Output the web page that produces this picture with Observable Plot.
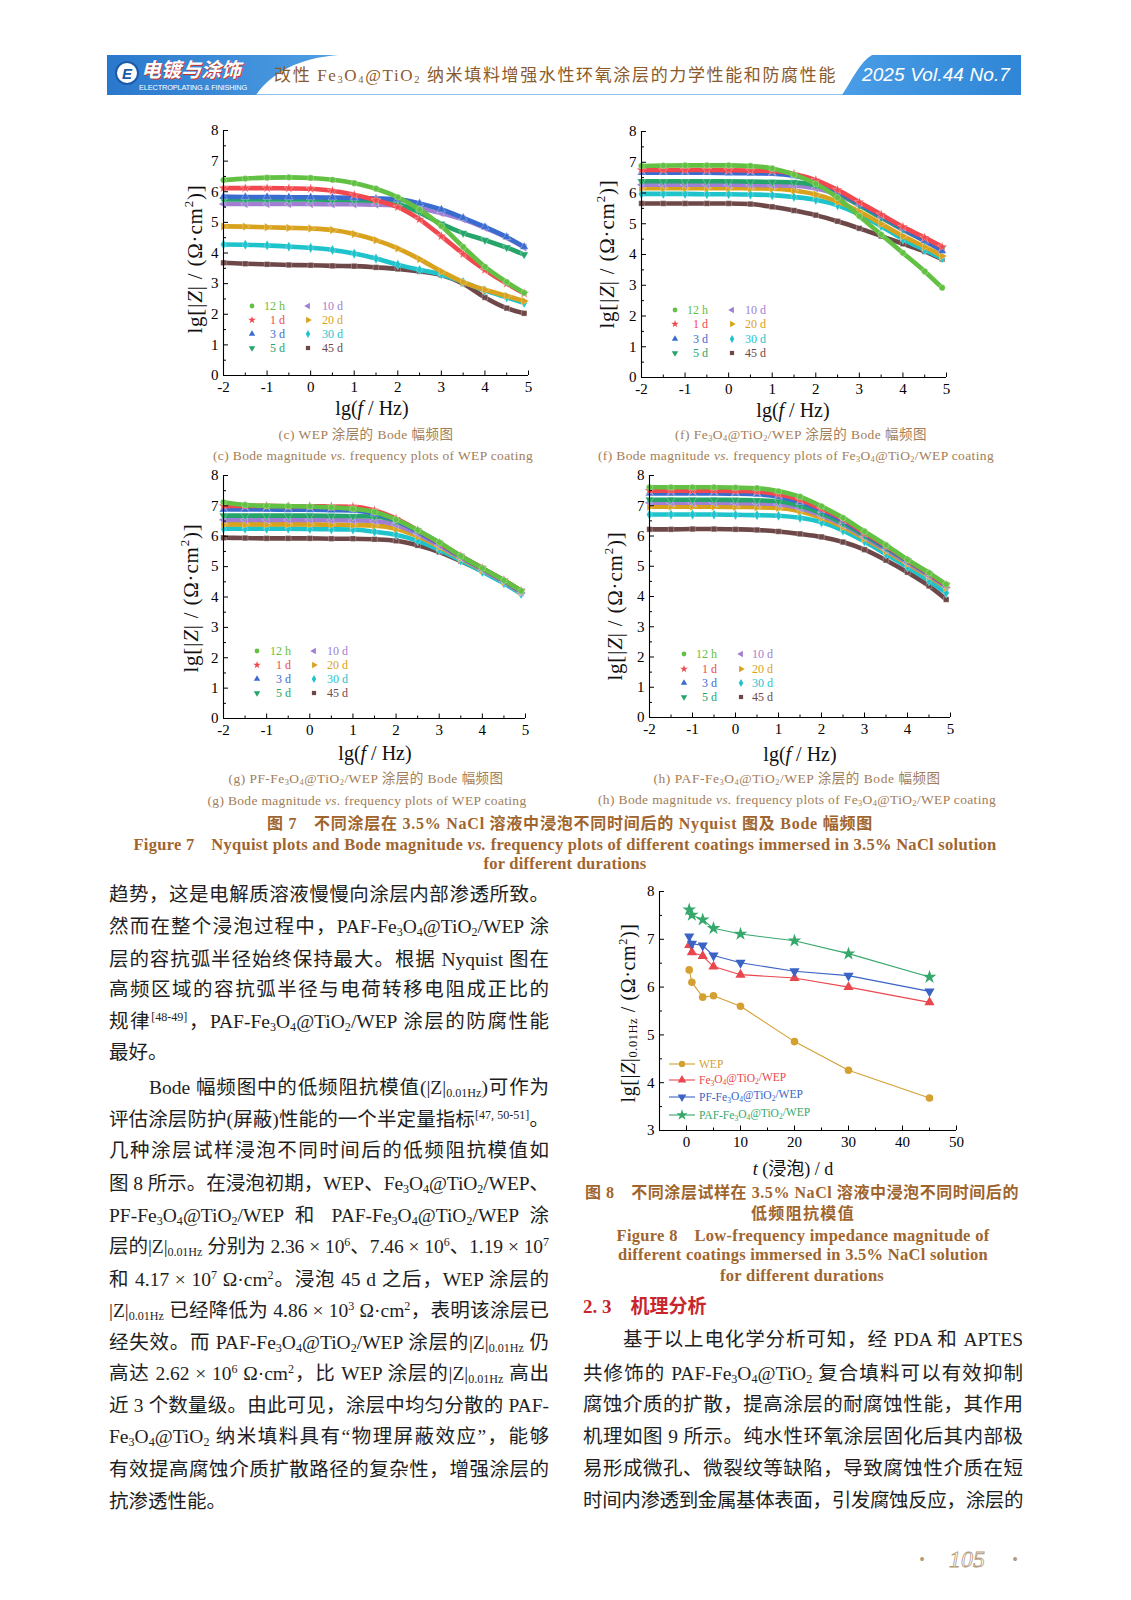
<!DOCTYPE html>
<html><head><meta charset="utf-8">
<script src="https://cdn.jsdelivr.net/npm/d3@7"></script>
<script src="https://cdn.jsdelivr.net/npm/@observablehq/plot@0.6"></script>
<style>
body{margin:0;background:#fff;}
#page{position:relative;width:1131px;height:1600px;overflow:hidden;background:#fff;font-family:"Liberation Serif","Noto Sans CJK SC",serif;color:#1e1e1e;}
#page div.a{position:absolute;white-space:nowrap;}
sub{font-size:0.62em;vertical-align:-0.22em;line-height:0;}
sup{font-size:0.62em;vertical-align:0.62em;line-height:0;}
.c{transform:translate(-50%,-50%);}
.cap{color:#a27d57;font-size:13.5px;}
.bcap{color:#a0652e;font-weight:bold;}
</style></head>
<body><div id="page"></div>
<script>
// ---------------- DATA ----------------
const lgF = [-2,-1.5,-1,-0.5,0,0.5,1,1.5,2,2.5,3,3.5,4,4.5,4.9];
const durations = ["12 h","1 d","3 d","5 d","10 d","20 d","30 d","45 d"];
const seriesColors = ["#62c043","#f0484e","#3a6cd0","#26a56b","#a07fd2","#d9a21c","#1fc3cc","#6e4848"];
const yTickVals = [0,1,2,3,4,5,6,7,8];
const xTickVals = [-2,-1,0,1,2,3,4,5];

// (c) WEP
const zWEP = [
  [6.38,6.43,6.46,6.47,6.45,6.39,6.28,6.10,5.82,5.42,4.88,4.20,3.55,3.05,2.70],
  [6.12,6.12,6.12,6.11,6.10,6.03,5.90,5.72,5.50,5.10,4.55,3.97,3.45,3.00,2.68],
  [5.84,5.83,5.83,5.82,5.82,5.81,5.80,5.78,5.75,5.62,5.42,5.15,4.85,4.52,4.20],
  [5.75,5.75,5.75,5.75,5.75,5.74,5.73,5.70,5.60,5.32,4.95,4.65,4.42,4.18,3.95],
  [5.60,5.60,5.60,5.60,5.60,5.59,5.59,5.58,5.55,5.45,5.30,5.10,4.82,4.50,4.18],
  [4.87,4.86,4.84,4.82,4.80,4.75,4.62,4.42,4.15,3.80,3.40,3.05,2.80,2.60,2.43],
  [4.28,4.27,4.25,4.21,4.17,4.10,3.98,3.82,3.62,3.45,3.30,3.05,2.78,2.55,2.37],
  [3.68,3.65,3.63,3.61,3.60,3.58,3.57,3.53,3.48,3.40,3.28,3.00,2.55,2.20,2.03]
];
// (f) Fe3O4@TiO2/WEP
const zFe = [
  [6.88,6.89,6.90,6.90,6.90,6.88,6.80,6.60,6.30,5.85,5.25,4.65,4.05,3.45,2.92],
  [6.75,6.75,6.75,6.75,6.74,6.73,6.72,6.62,6.42,6.10,5.70,5.30,4.90,4.55,4.25],
  [6.66,6.66,6.66,6.66,6.65,6.64,6.63,6.56,6.38,6.05,5.65,5.25,4.85,4.45,4.12],
  [6.38,6.38,6.38,6.38,6.38,6.37,6.36,6.35,6.25,6.00,5.60,5.20,4.82,4.45,4.20],
  [6.27,6.27,6.27,6.27,6.27,6.26,6.25,6.24,6.15,5.95,5.60,5.20,4.80,4.45,4.15],
  [6.16,6.16,6.16,6.16,6.16,6.15,6.14,6.08,5.95,5.72,5.40,5.00,4.60,4.25,3.95],
  [5.97,5.97,5.97,5.96,5.96,5.95,5.93,5.87,5.78,5.60,5.30,4.92,4.50,4.15,3.88],
  [5.66,5.66,5.66,5.66,5.66,5.64,5.55,5.43,5.28,5.08,4.85,4.60,4.35,4.10,3.85]
];
// (g) PF-Fe3O4@TiO2/WEP
const zPF = [
  [7.12,7.03,7.00,6.99,6.98,6.95,6.90,6.80,6.55,6.20,5.80,5.35,4.95,4.55,4.20],
  [7.00,7.00,7.00,6.99,6.99,6.98,6.97,6.85,6.58,6.20,5.78,5.35,4.95,4.55,4.20],
  [6.88,6.88,6.88,6.87,6.87,6.86,6.85,6.75,6.52,6.15,5.75,5.33,4.93,4.53,4.18],
  [6.68,6.68,6.68,6.68,6.68,6.67,6.66,6.65,6.50,6.18,5.78,5.35,4.95,4.55,4.20],
  [6.54,6.54,6.54,6.54,6.54,6.53,6.52,6.50,6.38,6.08,5.70,5.30,4.90,4.50,4.15],
  [6.39,6.39,6.39,6.39,6.39,6.38,6.37,6.35,6.25,6.00,5.65,5.27,4.88,4.50,4.15],
  [6.25,6.25,6.25,6.25,6.24,6.23,6.22,6.15,6.05,5.85,5.55,5.20,4.83,4.45,4.10],
  [5.95,5.94,5.93,5.93,5.93,5.92,5.92,5.90,5.85,5.70,5.48,5.18,4.85,4.50,4.15]
];
// (h) PAF-Fe3O4@TiO2/WEP
const zPAF = [
  [7.61,7.61,7.61,7.61,7.60,7.58,7.48,7.30,6.98,6.60,6.15,5.70,5.22,4.78,4.40],
  [7.50,7.50,7.50,7.50,7.49,7.47,7.38,7.20,6.90,6.55,6.10,5.67,5.20,4.75,4.38],
  [7.41,7.41,7.41,7.41,7.40,7.38,7.30,7.12,6.85,6.50,6.07,5.63,5.18,4.73,4.36],
  [7.20,7.20,7.20,7.20,7.19,7.18,7.15,7.00,6.75,6.42,6.02,5.60,5.17,4.75,4.38],
  [7.10,7.10,7.10,7.10,7.09,7.08,7.05,6.92,6.68,6.37,5.97,5.55,5.12,4.70,4.33],
  [6.97,6.97,6.97,6.97,6.96,6.95,6.93,6.82,6.60,6.30,5.92,5.50,5.08,4.66,4.29],
  [6.71,6.71,6.71,6.71,6.70,6.69,6.67,6.60,6.45,6.18,5.82,5.40,4.97,4.52,4.12],
  [6.22,6.22,6.23,6.23,6.22,6.20,6.15,6.07,5.97,5.80,5.55,5.20,4.80,4.35,3.90]
];

// Figure 8
const days = [0.5,1,3,5,10,20,30,45];
const z001WEP = [6.36,6.10,5.79,5.82,5.60,4.86,4.26,3.68];
const z001Fe  = [6.88,6.73,6.65,6.43,6.26,6.19,6.00,5.68];
const z001PF  = [7.06,6.91,6.87,6.66,6.51,6.33,6.24,5.91];
const z001PAF = [7.62,7.51,7.41,7.23,7.11,6.97,6.70,6.21];
const fig8Colors = ["#d4a032","#e9474d","#3b63c5","#36a86c"];
const fig8Ticks = [0,10,20,30,40,50];
const fig8YTicks = [3,4,5,6,7,8];

// ---------------- HELPERS ----------------
const page = document.getElementById("page");
const FT = "Fe<sub>3</sub>O<sub>4</sub>@TiO<sub>2</sub>";
const Z01 = "|Z|<sub>0.01Hz</sub>";

function div(html, style, cls="a"){
  const d = document.createElement("div");
  d.className = cls; d.innerHTML = html;
  Object.assign(d.style, style);
  page.appendChild(d);
  return d;
}
function fit(el, target){
  const w = el.getBoundingClientRect().width;
  const n = el.textContent.length;
  el.style.letterSpacing = ((target - w)/n) + "px";
}
function centered(html, cx, cy, style, target, cls){
  const d = div(html, Object.assign({left:cx+"px", top:cy+"px"}, style), "a c " + (cls||""));
  if (target) fit(d, target);
  return d;
}
const SQ3 = Math.sqrt(3);
function tri(angle){
  return {draw(ctx, size){
    const r = Math.sqrt(4*size/(3*SQ3));
    for (let i=0;i<3;i++){
      const a = angle + i*2*Math.PI/3;
      const px = r*Math.cos(a), py = r*Math.sin(a);
      if (i===0) ctx.moveTo(px,py); else ctx.lineTo(px,py);
    }
    ctx.closePath();
  }};
}
const bodeSymbols = [d3.symbolCircle, d3.symbolStar, tri(-Math.PI/2), tri(Math.PI/2), tri(Math.PI), tri(0), d3.symbolDiamond, d3.symbolSquare];
const fig8Symbols = [d3.symbolCircle, tri(-Math.PI/2), tri(Math.PI/2), d3.symbolStar];

const plotStyle = "background:transparent;font-family:'Liberation Serif',serif;font-size:15px;overflow:visible;color:#000;";

// ---------------- HEADER ----------------
const hs = d3.select(page).append("svg").attr("width",1131).attr("height",110)
  .style("position","absolute").style("left","0").style("top","0");
const defs = hs.append("defs");
const g1 = defs.append("linearGradient").attr("id","hbL").attr("x1",0).attr("x2",1);
g1.append("stop").attr("offset",0).attr("stop-color","#2a78cc");
g1.append("stop").attr("offset",1).attr("stop-color","#4f9fe4");
const g2 = defs.append("linearGradient").attr("id","hbR").attr("x1",0).attr("x2",1);
g2.append("stop").attr("offset",0).attr("stop-color","#4a9de6");
g2.append("stop").attr("offset",1).attr("stop-color","#2f86d6");
hs.append("line").attr("x1",250).attr("x2",860).attr("y1",94.5).attr("y2",94.5).attr("stroke","#8fc0ec").attr("stroke-width",1.2);
hs.append("path").attr("d","M107,55 L338,55 C300,58 272,72 256,95 L107,95 Z").attr("fill","url(#hbL)");
hs.append("path").attr("d","M872,55 L1021,55 L1021,95 L842,95 C852,80 860,62 872,55 Z").attr("fill","url(#hbR)");
hs.append("circle").attr("cx",127).attr("cy",73).attr("r",11).attr("fill","#fff").attr("stroke","#1b5aa8").attr("stroke-width",2);
hs.append("text").attr("x",127).attr("y",78.5).attr("text-anchor","middle").attr("font-size",15).attr("font-weight","bold")
  .attr("font-style","italic").attr("font-family","Liberation Sans").attr("fill","#1b5aa8").text("E");

div("电镀与涂饰", {left:"141px", top:"56px", fontSize:"20px", fontWeight:"bold", fontStyle:"italic", color:"#fff",
  fontFamily:"'Noto Sans CJK SC'", textShadow:"1px 1px 0 #c8332b", lineHeight:"26px"});
const eng = div("ELECTROPLATING &amp; FINISHING", {left:"139px", top:"83px", fontSize:"7.4px", color:"#fff",
  fontFamily:"'Liberation Sans'", lineHeight:"10px"});
fit(eng, 108);
const htitle = div(`改性 ${FT} 纳米填料增强水性环氧涂层的力学性能和防腐性能`, {left:"274px", top:"64px",
  fontSize:"17px", color:"#8b5a2b", lineHeight:"24px"});
fit(htitle, 563);
centered("2025 Vol.44 No.7", 936, 75, {fontSize:"19px", fontStyle:"italic", color:"#fff", fontFamily:"'Liberation Sans'"}, 148);

// ---------------- BODE CHARTS ----------------
function bodeChart(z, box){
  const mL=50, mT=14, mR=24, mB=34;
  const pw = box.x1-box.x0, ph = box.y1-box.y0;
  const marks = [];
  for (let s = z.length-1; s >= 0; s--){
    const rows = z[s].map((v,i)=>({x:lgF[i], y:v}));
    marks.push(Plot.line(rows, {x:"x", y:"y", stroke:seriesColors[s], strokeWidth:4.6, curve:"monotone-x"}));
    marks.push(Plot.dot(rows, {x:"x", y:"y", fill:seriesColors[s], r:3.1, symbol:bodeSymbols[s], stroke:"#fff", strokeWidth:0.4, strokeOpacity:0.7}));
  }
  const xMinor = xTickVals.slice(0,-1).map(d=>d+0.5);
  const yMinor = yTickVals.slice(0,-1).map(d=>d+0.5);
  const plot = Plot.plot({
    width: pw+mL+mR, height: ph+mT+mB,
    marginLeft:mL, marginTop:mT, marginRight:mR, marginBottom:mB,
    style: plotStyle,
    x: {domain:[-2,5]}, y: {domain:[0,8]},
    marks: [
      Plot.axisX({ticks:xTickVals, tickSize:0, tickPadding:6, tickFormat:d=>String(d), label:null}),
      Plot.axisY({ticks:yTickVals, tickSize:0, tickPadding:5, tickFormat:d=>String(d), label:null}),
      ...marks,
      Plot.tickX(xTickVals, {x:d=>d, insetTop:ph-4.5}),
      Plot.tickX(xMinor, {x:d=>d, insetTop:ph-2.5}),
      Plot.tickY(yTickVals, {y:d=>d, insetRight:pw-5}),
      Plot.tickY(yMinor, {y:d=>d, insetRight:pw-3}),
      Plot.ruleX([-2], {strokeWidth:1.1}),
      Plot.ruleY([0], {strokeWidth:1.1})
    ]
  });
  plot.style.position = "absolute";
  plot.style.left = (box.x0-mL)+"px";
  plot.style.top = (box.y0-mT)+"px";
  page.appendChild(plot);
  // axis titles
  centered('lg[|<i>Z</i>| / (Ω·cm<sup>2</sup>)]', box.yt[0], box.yt[1],
    {fontSize:"21px", letterSpacing:"0.8px", transform:"translate(-50%,-50%) rotate(-90deg)", color:"#111"});
  centered('lg(<i>f</i> / Hz)', box.xt[0], box.xt[1], {fontSize:"20px", color:"#111"});
}

const boxes = {
  c:{x0:223,x1:528,y0:130,y1:375, yt:[195,259], xt:[372,408]},
  f:{x0:641,x1:946,y0:131,y1:377, yt:[607,254], xt:[793,410]},
  g:{x0:223,x1:525,y0:475,y1:718, yt:[191,598], xt:[375,753]},
  h:{x0:649,x1:950,y0:475,y1:717, yt:[615,606], xt:[800,754]}
};
bodeChart(zWEP, boxes.c);
bodeChart(zFe, boxes.f);
bodeChart(zPF, boxes.g);
bodeChart(zPAF, boxes.h);

// ---------------- FIGURE 8 ----------------
(function(){
  const box = {x0:659,x1:956,y0:891,y1:1130};
  const mL=50, mT=14, mR=24, mB=34;
  const pw = box.x1-box.x0, ph = box.y1-box.y0;
  const series = [z001WEP, z001Fe, z001PF, z001PAF];
  const marks = [];
  series.forEach((vals, s)=>{
    const rows = vals.map((v,i)=>({t:days[i], z:v}));
    marks.push(Plot.line(rows, {x:"t", y:"z", stroke:fig8Colors[s], strokeWidth:1.1}));
    marks.push(Plot.dot(rows, {x:"t", y:"z", fill:fig8Colors[s], r:s===3?4.3:3.8, symbol:fig8Symbols[s]}));
  });
  const xMinor = [-5,5,15,25,35,45];
  const yMinor = [3.5,4.5,5.5,6.5,7.5];
  const plot = Plot.plot({
    width: pw+mL+mR, height: ph+mT+mB,
    marginLeft:mL, marginTop:mT, marginRight:mR, marginBottom:mB,
    style: plotStyle,
    x: {domain:[-5,50]}, y: {domain:[3,8]},
    marks: [
      Plot.axisX({ticks:fig8Ticks, tickSize:0, tickPadding:6, tickFormat:d=>String(d), label:null}),
      Plot.axisY({ticks:fig8YTicks, tickSize:0, tickPadding:5, tickFormat:d=>String(d), label:null}),
      Plot.tickX(fig8Ticks, {x:d=>d, insetTop:ph-4.5}),
      Plot.tickX(xMinor, {x:d=>d, insetTop:ph-2.5}),
      Plot.tickY(fig8YTicks, {y:d=>d, insetRight:pw-5}),
      Plot.tickY(yMinor, {y:d=>d, insetRight:pw-3}),
      ...marks,
      Plot.ruleX([-5], {strokeWidth:1.1}),
      Plot.ruleY([3], {strokeWidth:1.1})
    ]
  });
  plot.style.position = "absolute";
  plot.style.left = (box.x0-mL)+"px";
  plot.style.top = (box.y0-mT)+"px";
  page.appendChild(plot);
  centered('lg[|<i>Z</i>|<sub>0.01Hz</sub> / (Ω·cm<sup>2</sup>)]', 628, 1013,
    {fontSize:"20px", letterSpacing:"0.6px", transform:"translate(-50%,-50%) rotate(-90deg)", color:"#111"});
  centered('<i>t</i> (浸泡) / d', 793, 1167, {fontSize:"18px", color:"#111"});
})();

// ---------------- LEGENDS ----------------
const ov = d3.select(page).append("svg").attr("width",1131).attr("height",1600)
  .style("position","absolute").style("left","0").style("top","0").style("pointer-events","none");
const legends = [
  {c1:252, r1:285, c2:308, r2:343, rows:[306,320,334,348]},
  {c1:675, r1:708, c2:732, r2:766, rows:[310,324,339,353]},
  {c1:257, r1:291, c2:314, r2:348, rows:[651,665,679,693]},
  {c1:684, r1:717, c2:741, r2:773, rows:[654,669,683,697]}
];
legends.forEach(L=>{
  durations.forEach((lab, s)=>{
    const col = s < 4 ? 0 : 1, row = s % 4;
    const sx = col ? L.c2 : L.c1, rx = col ? L.r2 : L.r1, y = L.rows[row];
    ov.append("path").attr("transform",`translate(${sx},${y})`)
      .attr("d", d3.symbol(bodeSymbols[s], 18)()).attr("fill", seriesColors[s]);
    ov.append("text").attr("x",rx).attr("y",y).attr("dy","0.35em").attr("text-anchor","end")
      .attr("font-family","Liberation Serif").attr("font-size",12).attr("fill",seriesColors[s]).text(lab);
  });
});
const f8rows = [1064,1080,1097,1115];
const f8names = [
  [["WEP",0]],
  [["Fe",0],["3",1],["O",0],["4",1],["@TiO",0],["2",1],["/WEP",0]],
  [["PF-Fe",0],["3",1],["O",0],["4",1],["@TiO",0],["2",1],["/WEP",0]],
  [["PAF-Fe",0],["3",1],["O",0],["4",1],["@TiO",0],["2",1],["/WEP",0]]
];
f8rows.forEach((y, s)=>{
  ov.append("line").attr("x1",669).attr("x2",695).attr("y1",y).attr("y2",y).attr("stroke",fig8Colors[s]).attr("stroke-width",1.1);
  ov.append("path").attr("transform",`translate(682,${y})`).attr("d", d3.symbol(fig8Symbols[s], s===3?40:32)()).attr("fill",fig8Colors[s]);
  const t = ov.append("text").attr("x",699).attr("y",y).attr("dy","0.35em").attr("font-family","Liberation Serif")
    .attr("font-size",11.5).attr("fill",fig8Colors[s]);
  f8names[s].forEach(([str, sub])=>{
    const ts = t.append("tspan").text(str);
    if (sub) ts.attr("font-size",7.5).attr("dy","0.25em");
    else if (t.node().childNodes.length>1) ts.attr("dy","-0.25em");
  });
});

// ---------------- CAPTIONS ----------------
const vs = "<i>vs.</i>";
centered("(c) WEP 涂层的 Bode 幅频图", 366, 433, {}, 175, "cap");
centered(`(c) Bode magnitude ${vs} frequency plots of WEP coating`, 373, 456, {}, 320, "cap");
centered(`(f) ${FT}/WEP 涂层的 Bode 幅频图`, 801, 433, {}, 252, "cap");
centered(`(f) Bode magnitude ${vs} frequency plots of ${FT}/WEP coating`, 796, 456, {}, 396, "cap");
centered(`(g) PF-${FT}/WEP 涂层的 Bode 幅频图`, 366, 777, {}, 275, "cap");
centered(`(g) Bode magnitude ${vs} frequency plots of WEP coating`, 367, 801, {}, 319, "cap");
centered(`(h) PAF-${FT}/WEP 涂层的 Bode 幅频图`, 797, 777, {}, 287, "cap");
centered(`(h) Bode magnitude ${vs} frequency plots of ${FT}/WEP coating`, 797, 800, {}, 398, "cap");

centered("图 7　不同涂层在 3.5% NaCl 溶液中浸泡不同时间后的 Nyquist 图及 Bode 幅频图", 570, 822, {fontSize:"16px"}, 606, "bcap");
centered(`Figure 7　Nyquist plots and Bode magnitude ${vs} frequency plots of different coatings immersed in 3.5% NaCl solution`, 565, 843, {fontSize:"16.5px"}, 863, "bcap");
centered("for different durations", 565, 864, {fontSize:"16.5px"}, 163, "bcap");

centered("图 8　不同涂层试样在 3.5% NaCl 溶液中浸泡不同时间后的", 802, 1191, {fontSize:"16px"}, 434, "bcap");
centered("低频阻抗模值", 803, 1212, {fontSize:"16px"}, 104, "bcap");
centered("Figure 8　Low-frequency impedance magnitude of", 803, 1234, {fontSize:"16.5px"}, 373, "bcap");
centered("different coatings immersed in 3.5% NaCl solution", 803, 1255, {fontSize:"16.5px"}, 370, "bcap");
centered("for different durations", 802, 1276, {fontSize:"16.5px"}, 164, "bcap");

div("2. 3　机理分析", {left:"583px", top:"1294px", fontSize:"19px", fontWeight:"bold", color:"#c8262c", lineHeight:"26px",
  fontFamily:"'Liberation Serif','Noto Sans CJK SC'"});

// ---------------- BODY TEXT ----------------
function bodyLine(html, x, cy, opts={}){
  const ind = opts.indent || 0;
  const d = div(html, {left:x+"px", top:(cy-13)+"px", fontSize:"19.5px", lineHeight:"26px", color:"#1e1e1e", paddingLeft:ind+"px"});
  const W = 440 - ind;
  const w = d.getBoundingClientRect().width - ind;
  if (w > W - 1) d.style.letterSpacing = ((W - 1 - w)/d.textContent.length) + "px";
  if (!opts.last){
    d.style.whiteSpace = "normal"; d.style.width = W + "px";
    d.style.textAlign = "justify"; d.style.textAlignLast = "justify";
  }
}
const leftLines = [
  ["趋势，这是电解质溶液慢慢向涂层内部渗透所致。"],
  [`然而在整个浸泡过程中，PAF-${FT}/WEP 涂`],
  ["层的容抗弧半径始终保持最大。根据 Nyquist 图在"],
  ["高频区域的容抗弧半径与电荷转移电阻成正比的"],
  [`规律<sup>[48-49]</sup>，PAF-${FT}/WEP 涂层的防腐性能`],
  ["最好。", {last:true}],
  [`Bode 幅频图中的低频阻抗模值(${Z01})可作为`, {indent:40}],
  ["评估涂层防护(屏蔽)性能的一个半定量指标<sup>[47, 50-51]</sup>。"],
  ["几种涂层试样浸泡不同时间后的低频阻抗模值如"],
  [`图 8 所示。在浸泡初期，WEP、${FT}/WEP、`],
  [`PF-${FT}/WEP 和 PAF-${FT}/WEP 涂`],
  [`层的${Z01} 分别为 2.36 × 10<sup>6</sup>、7.46 × 10<sup>6</sup>、1.19 × 10<sup>7</sup>`],
  ["和 4.17 × 10<sup>7</sup> Ω·cm<sup>2</sup>。浸泡 45 d 之后，WEP 涂层的"],
  [`${Z01} 已经降低为 4.86 × 10<sup>3</sup> Ω·cm<sup>2</sup>，表明该涂层已`],
  [`经失效。而 PAF-${FT}/WEP 涂层的${Z01} 仍`],
  [`高达 2.62 × 10<sup>6</sup> Ω·cm<sup>2</sup>，比 WEP 涂层的${Z01} 高出`],
  ["近 3 个数量级。由此可见，涂层中均匀分散的 PAF-"],
  [`${FT} 纳米填料具有“物理屏蔽效应”，能够`],
  ["有效提高腐蚀介质扩散路径的复杂性，增强涂层的"],
  ["抗渗透性能。", {last:true}]
];
const leftY = [895,927,960,990,1022,1053,1088,1120,1151,1184,1216,1247,1280,1311,1343,1374,1406,1437,1470,1502];
leftLines.forEach(([h,o],i)=>bodyLine(h, 109, leftY[i], o||{}));

const rightLines = [
  ["基于以上电化学分析可知，经 PDA 和 APTES", {indent:40}],
  [`共修饰的 PAF-${FT} 复合填料可以有效抑制`],
  ["腐蚀介质的扩散，提高涂层的耐腐蚀性能，其作用"],
  ["机理如图 9 所示。纯水性环氧涂层固化后其内部极"],
  ["易形成微孔、微裂纹等缺陷，导致腐蚀性介质在短"],
  ["时间内渗透到金属基体表面，引发腐蚀反应，涂层的"]
];
const rightY = [1340,1374,1405,1437,1469,1501];
rightLines.forEach(([h,o],i)=>bodyLine(h, 583, rightY[i], o||{}));

// ---------------- PAGE NUMBER ----------------
centered("•", 922, 1560, {fontSize:"16px", color:"#b39a7a"});
centered("105", 967, 1559, {fontSize:"24px", fontStyle:"italic", color:"#fff", webkitTextStroke:"0.8px #b39a7a", fontFamily:"'Liberation Serif'"});
centered("•", 1015, 1560, {fontSize:"16px", color:"#b39a7a"});
</script></body></html>
